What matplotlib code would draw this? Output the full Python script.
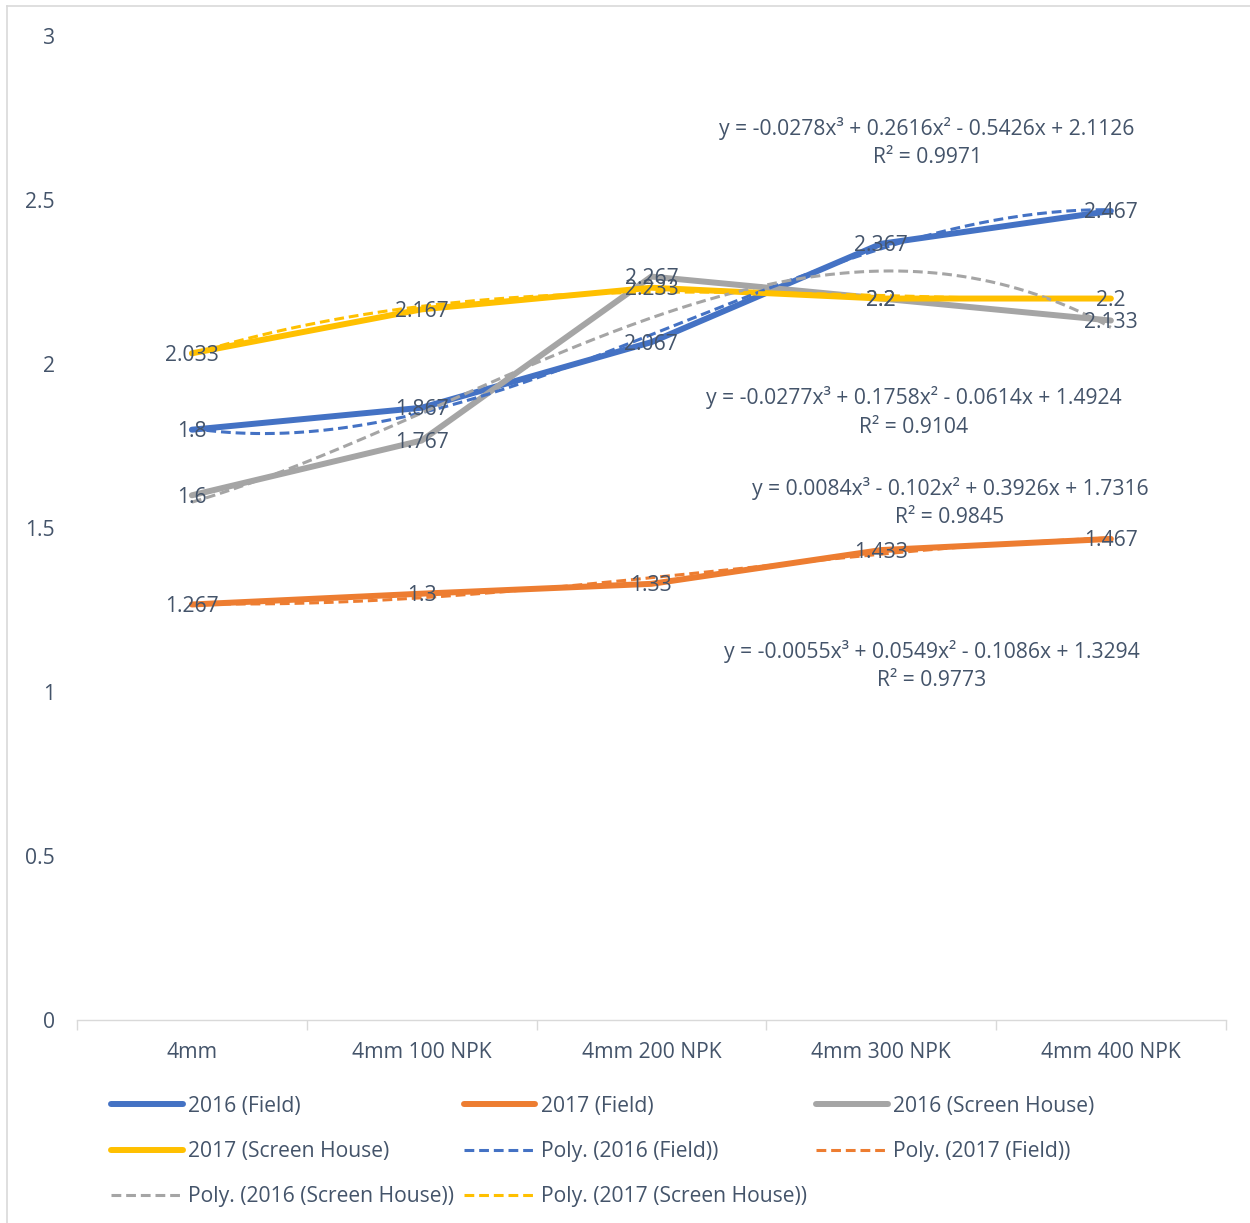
import numpy as np
import matplotlib
matplotlib.use("Agg")
import matplotlib.pyplot as plt
from matplotlib.lines import Line2D

categories = ["4mm", "4mm 100 NPK", "4mm 200 NPK", "4mm 300 NPK", "4mm 400 NPK"]
field_2016 = [1.8, 1.867, 2.067, 2.367, 2.467]
field_2017 = [1.267, 1.3, 1.33, 1.433, 1.467]
screen_2016 = [1.6, 1.767, 2.267, 2.2, 2.133]
screen_2017 = [2.033, 2.167, 2.233, 2.2, 2.2]

series_names = ["2016 (Field)", "2017 (Field)", "2016 (Screen House)", "2017 (Screen House)"]
series_values = [field_2016, field_2017, screen_2016, screen_2017]
colors = ["#4472C4", "#ED7D31", "#A5A5A5", "#FFC000"]

equations = [
    "y = -0.0278x³ + 0.2616x² - 0.5426x + 2.1126\nR² = 0.9971",
    "y = -0.0055x³ + 0.0549x² - 0.1086x + 1.3294\nR² = 0.9773",
    "y = -0.0277x³ + 0.1758x² - 0.0614x + 1.4924\nR² = 0.9104",
    "y = 0.0084x³ - 0.102x² + 0.3926x + 1.7316\nR² = 0.9845",
]
eq_pos = [(4.2, 2.675), (4.22, 1.082), (4.143, 1.854), (4.3, 1.578)]

plt.rcParams['font.family'] = ['Open Sans', 'DejaVu Sans']
text_color = "#44546A"
fs = 15.2

fig = plt.figure(figsize=(12.5, 12.23), dpi=100)
ax = fig.add_axes([0.0616, 0.166, 0.919, 0.8044])

x = np.arange(1, len(categories) + 1)
xs = np.linspace(1, 5, 200)

handles = []
trend_handles = []
for name, vals, c in zip(series_names, series_values, colors):
    h, = ax.plot(x, vals, color=c, lw=4.3, solid_capstyle='round', zorder=2, label=name)
    handles.append(h)
for name, vals, c in zip(series_names, series_values, colors):
    coef = np.polyfit(x, vals, 3)
    t, = ax.plot(xs, np.polyval(coef, xs), color=c, lw=2.2, dashes=(3.2, 1.6),
                 zorder=3, label="Poly. (%s)" % name)
    trend_handles.append(t)

for vals in series_values:
    for xi, v in zip(x, vals):
        ax.text(xi, v - 0.006, f"{v:g}", ha='center', va='center', fontsize=fs,
                color=text_color, zorder=5)

for eq, (ex, ey) in zip(equations, eq_pos):
    ax.text(ex, ey, eq, ha='center', va='center', fontsize=fs, color=text_color,
            linespacing=1.45, zorder=5)

ax.set_xlim(0.5, 5.5)
ax.set_ylim(0, 3)
ax.set_yticks(np.arange(0, 3.01, 0.5))
ax.set_yticklabels(["0", "0.5", "1", "1.5", "2", "2.5", "3"])
ax.set_xticks(x)
ax.set_xticklabels(categories)
ax.set_xticks(np.arange(0.5, 5.6, 1), minor=True)
ax.tick_params(axis='y', length=0, pad=16, labelsize=fs, labelcolor=text_color)
ax.tick_params(axis='x', which='major', length=0, pad=16, labelsize=fs, labelcolor=text_color)
ax.tick_params(axis='x', which='minor', length=7, width=1, color="#D9D9D9", direction='out')
for s in ['top', 'right', 'left']:
    ax.spines[s].set_visible(False)
ax.spines['bottom'].set_color("#D9D9D9")
ax.spines['bottom'].set_linewidth(1)

# legend filled column-wise, so reorder to get row-wise Excel layout
all_h = handles + trend_handles
order = [0, 3, 6, 1, 4, 7, 2, 5]
leg = fig.legend([all_h[i] for i in order], [all_h[i].get_label() for i in order],
                 loc='upper left', bbox_to_anchor=(0.082, 0.111), ncol=3, frameon=False,
                 fontsize=fs, handlelength=3.4, handletextpad=0.25, columnspacing=0.45,
                 labelspacing=1.15, borderaxespad=0)
for t in leg.get_texts():
    t.set_color(text_color)

# chart border (left and top)
fig.add_artist(Line2D([0.0055, 0.0055], [0.0, 0.995], color="#D9D9D9", lw=1.2))
fig.add_artist(Line2D([0.0055, 1.0], [0.995, 0.995], color="#D9D9D9", lw=1.2))

fig.savefig("out.png", dpi=100)
